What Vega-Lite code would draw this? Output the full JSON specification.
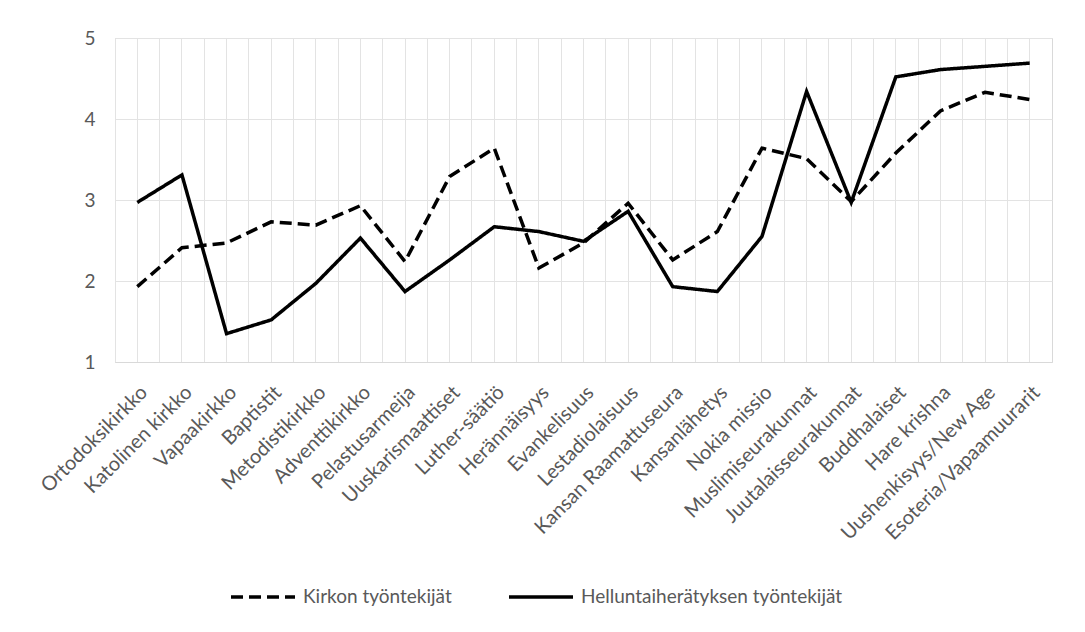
{
  "$schema": "https://vega.github.io/schema/vega-lite/v6.json",
  "autosize": {"type": "none"},
  "padding": {"left": 115, "top": 38, "right": 33, "bottom": 270},
  "width": 937,
  "height": 324,
  "background": "white",
  "config": {
    "font": "Lato",
    "view": {"stroke": "#d9d9d9", "strokeWidth": 1},
    "axis": {"labelFont": "Lato", "labelColor": "#595959", "gridColor": "#e3e3e3", "gridWidth": 1, "domainColor": "#d9d9d9"},
    "legend": {"labelFont": "Lato", "labelColor": "#595959"}
  },
  "data": {"values": [
    {"cat": "Ortodoksikirkko", "series": "Kirkon työntekijät", "value": 1.93},
    {"cat": "Katolinen kirkko", "series": "Kirkon työntekijät", "value": 2.41},
    {"cat": "Vapaakirkko", "series": "Kirkon työntekijät", "value": 2.47},
    {"cat": "Baptistit", "series": "Kirkon työntekijät", "value": 2.73},
    {"cat": "Metodistikirkko", "series": "Kirkon työntekijät", "value": 2.69},
    {"cat": "Adventtikirkko", "series": "Kirkon työntekijät", "value": 2.93},
    {"cat": "Pelastusarmeija", "series": "Kirkon työntekijät", "value": 2.24},
    {"cat": "Uuskarismaattiset", "series": "Kirkon työntekijät", "value": 3.29},
    {"cat": "Luther-säätiö", "series": "Kirkon työntekijät", "value": 3.64},
    {"cat": "Herännäisyys", "series": "Kirkon työntekijät", "value": 2.16},
    {"cat": "Evankelisuus", "series": "Kirkon työntekijät", "value": 2.47},
    {"cat": "Lestadiolaisuus", "series": "Kirkon työntekijät", "value": 2.96},
    {"cat": "Kansan Raamattuseura", "series": "Kirkon työntekijät", "value": 2.26},
    {"cat": "Kansanlähetys", "series": "Kirkon työntekijät", "value": 2.61},
    {"cat": "Nokia missio", "series": "Kirkon työntekijät", "value": 3.64},
    {"cat": "Muslimiseurakunnat", "series": "Kirkon työntekijät", "value": 3.51},
    {"cat": "Juutalaisseurakunnat", "series": "Kirkon työntekijät", "value": 2.98},
    {"cat": "Buddhalaiset", "series": "Kirkon työntekijät", "value": 3.58},
    {"cat": "Hare krishna", "series": "Kirkon työntekijät", "value": 4.10},
    {"cat": "Uushenkisyys/New Age", "series": "Kirkon työntekijät", "value": 4.33},
    {"cat": "Esoteria/Vapaamuurarit", "series": "Kirkon työntekijät", "value": 4.24},
    {"cat": "Ortodoksikirkko", "series": "Helluntaiherätyksen työntekijät", "value": 2.97},
    {"cat": "Katolinen kirkko", "series": "Helluntaiherätyksen työntekijät", "value": 3.31},
    {"cat": "Vapaakirkko", "series": "Helluntaiherätyksen työntekijät", "value": 1.35},
    {"cat": "Baptistit", "series": "Helluntaiherätyksen työntekijät", "value": 1.52},
    {"cat": "Metodistikirkko", "series": "Helluntaiherätyksen työntekijät", "value": 1.97},
    {"cat": "Adventtikirkko", "series": "Helluntaiherätyksen työntekijät", "value": 2.53},
    {"cat": "Pelastusarmeija", "series": "Helluntaiherätyksen työntekijät", "value": 1.87},
    {"cat": "Uuskarismaattiset", "series": "Helluntaiherätyksen työntekijät", "value": 2.26},
    {"cat": "Luther-säätiö", "series": "Helluntaiherätyksen työntekijät", "value": 2.67},
    {"cat": "Herännäisyys", "series": "Helluntaiherätyksen työntekijät", "value": 2.61},
    {"cat": "Evankelisuus", "series": "Helluntaiherätyksen työntekijät", "value": 2.49},
    {"cat": "Lestadiolaisuus", "series": "Helluntaiherätyksen työntekijät", "value": 2.86},
    {"cat": "Kansan Raamattuseura", "series": "Helluntaiherätyksen työntekijät", "value": 1.93},
    {"cat": "Kansanlähetys", "series": "Helluntaiherätyksen työntekijät", "value": 1.87},
    {"cat": "Nokia missio", "series": "Helluntaiherätyksen työntekijät", "value": 2.55},
    {"cat": "Muslimiseurakunnat", "series": "Helluntaiherätyksen työntekijät", "value": 4.34},
    {"cat": "Juutalaisseurakunnat", "series": "Helluntaiherätyksen työntekijät", "value": 2.97},
    {"cat": "Buddhalaiset", "series": "Helluntaiherätyksen työntekijät", "value": 4.52},
    {"cat": "Hare krishna", "series": "Helluntaiherätyksen työntekijät", "value": 4.61},
    {"cat": "Uushenkisyys/New Age", "series": "Helluntaiherätyksen työntekijät", "value": 4.65},
    {"cat": "Esoteria/Vapaamuurarit", "series": "Helluntaiherätyksen työntekijät", "value": 4.69}
  ]},
  "resolve": {"axis": {"x": "independent"}},
  "layer": [
    {
      "mark": {"type": "line", "opacity": 0},
      "encoding": {
        "x": {"field": "cat", "type": "nominal", "sort": null,
              "scale": {"type": "band", "paddingInner": 0, "paddingOuter": 0},
              "axis": {"orient": "top", "title": null, "labels": false, "ticks": false, "domain": false, "grid": true, "bandPosition": 0}},
        "y": {"field": "value", "type": "quantitative"},
        "detail": {"field": "series"}
      }
    },
    {
      "mark": {"type": "line", "color": "black", "strokeWidth": 3.5, "strokeCap": "butt"},
      "encoding": {
        "x": {"field": "cat", "type": "nominal", "sort": null,
              "scale": {"type": "band", "paddingInner": 0, "paddingOuter": 0},
              "axis": {"title": null, "labelAngle": -45, "labelFontSize": 20, "labelPadding": 20, "ticks": false, "domain": true, "grid": true, "bandPosition": 0.5, "labelLimit": 400}},
        "y": {"field": "value", "type": "quantitative",
              "scale": {"domain": [1, 5], "nice": false, "zero": false},
              "axis": {"title": null, "values": [1, 2, 3, 4, 5], "format": "d", "labelFontSize": 19, "labelPadding": 20, "tickSize": 0, "ticks": false, "domain": false, "grid": true}},
        "strokeDash": {"field": "series", "type": "nominal",
              "scale": {"domain": ["Kirkon työntekijät", "Helluntaiherätyksen työntekijät"], "range": [[12, 6], [1, 0]]},
              "legend": {"title": null, "orient": "none", "direction": "horizontal", "legendX": 114, "legendY": 525,
                         "symbolType": "stroke", "symbolSize": 4096, "symbolStrokeWidth": 3.5, "symbolStrokeColor": "black",
                         "labelFontSize": 19, "labelOffset": 6, "columnPadding": 50, "labelLimit": 400}}
      }
    }
  ]
}
